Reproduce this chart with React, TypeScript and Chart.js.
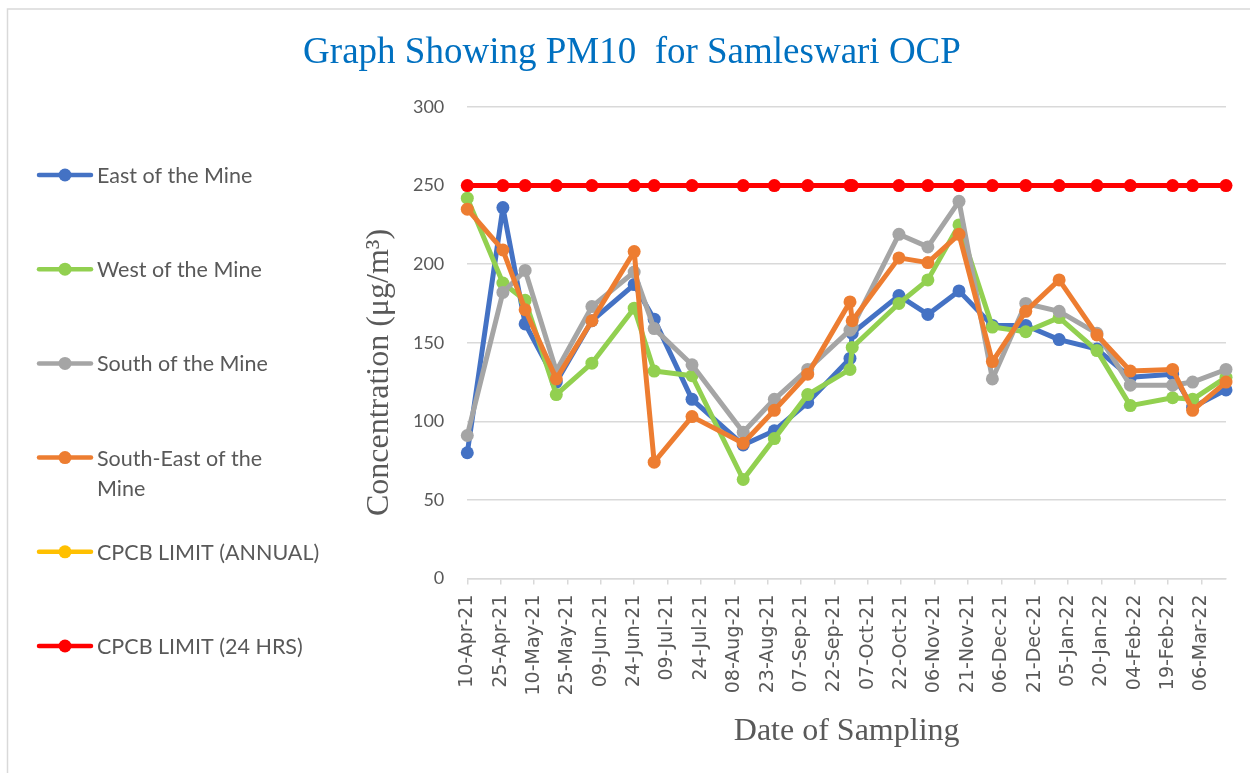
import React, { useEffect, useRef } from "react";
import { Chart, registerables } from "chart.js";

Chart.register(...registerables);

const chartTitle = "Graph Showing PM10  for Samleswari OCP";
const xAxisTitle = "Date of Sampling";
const yAxisTitle = "Concentration (μg/m³)";

const sampleDates = [
  "2021-04-10", "2021-04-26", "2021-05-06", "2021-05-20", "2021-06-05", "2021-06-24",
  "2021-07-03", "2021-07-20", "2021-08-12", "2021-08-26", "2021-09-10", "2021-09-29",
  "2021-09-30", "2021-10-21", "2021-11-03", "2021-11-17", "2021-12-02", "2021-12-17",
  "2022-01-01", "2022-01-18", "2022-02-02", "2022-02-21", "2022-03-02", "2022-03-17",
];

const eastOfMine = [80, 236, 162, 125, 164, 187, 165, 114, 85, 94, 112, 140, 156, 180, 168, 183, 161, 161, 152, 146, 128, 130, 109, 120];
const westOfMine = [242, 188, 177, 117, 137, 172, 132, 129, 63, 89, 117, 133, 147, 175, 190, 225, 160, 157, 166, 145, 110, 115, 114, 128];
const southOfMine = [91, 182, 196, 132, 173, 195, 159, 136, 93, 114, 133, 158, 160, 219, 211, 240, 127, 175, 170, 156, 123, 123, 125, 133];
const southEastOfMine = [235, 209, 171, 127, 164, 208, 74, 103, 86, 107, 130, 176, 164, 204, 201, 219, 138, 170, 190, 155, 132, 133, 107, 125];
const cpcbAnnual: number[] = [];
const cpcb24Hrs = [250, 250, 250, 250, 250, 250, 250, 250, 250, 250, 250, 250, 250, 250, 250, 250, 250, 250, 250, 250, 250, 250, 250, 250];

const seriesNames = [
  "East of the Mine",
  "West of the Mine",
  "South of the Mine",
  "South-East of the Mine",
  "CPCB LIMIT (ANNUAL)",
  "CPCB LIMIT (24 HRS)",
];
const seriesValues = [eastOfMine, westOfMine, southOfMine, southEastOfMine, cpcbAnnual, cpcb24Hrs];
const seriesColors = ["#4472C4", "#92D050", "#A5A5A5", "#ED7D31", "#FFC000", "#FF0000"];

const legendLines: Record<string, string[]> = {
  "South-East of the Mine": ["South-East of the", "Mine"],
};

const tickLabels = [
  "10-Apr-21", "25-Apr-21", "10-May-21", "25-May-21", "09-Jun-21", "24-Jun-21",
  "09-Jul-21", "24-Jul-21", "08-Aug-21", "23-Aug-21", "07-Sep-21", "22-Sep-21",
  "07-Oct-21", "22-Oct-21", "06-Nov-21", "21-Nov-21", "06-Dec-21", "21-Dec-21",
  "05-Jan-22", "20-Jan-22", "04-Feb-22", "19-Feb-22", "06-Mar-22",
];
const tickStepDays = 15;
const yTicks = [0, 50, 100, 150, 200, 250, 300];

const W = 1250;
const H = 773;
const GRID = "#d9d9d9";
const TEXT = "#595959";

const dayMs = 86400000;
const dayOf = (s: string) => (Date.parse(s) - Date.parse(sampleDates[0])) / dayMs;

const decorPlugin = {
  id: "decor",
  beforeDraw(chart: any) {
    const ctx = chart.ctx as CanvasRenderingContext2D;
    ctx.save();
    ctx.fillStyle = "#ffffff";
    ctx.fillRect(0, 0, chart.width, chart.height);
    ctx.strokeStyle = GRID;
    ctx.lineWidth = 1.5;
    ctx.beginPath();
    ctx.moveTo(7.5, chart.height);
    ctx.lineTo(7.5, 9);
    ctx.lineTo(chart.width, 9);
    ctx.stroke();
    ctx.restore();
  },
  afterDraw(chart: any) {
    const ctx = chart.ctx as CanvasRenderingContext2D;
    const area = chart.chartArea;
    ctx.save();
    // title
    ctx.fillStyle = "#0070C0";
    ctx.font = '37px "Liberation Serif"';
    ctx.textAlign = "center";
    ctx.textBaseline = "alphabetic";
    ctx.fillText(chartTitle, 632, 63);
    // x axis title
    ctx.fillStyle = TEXT;
    ctx.font = '32px "Liberation Serif"';
    ctx.fillText(xAxisTitle, (area.left + area.right) / 2, 740);
    // y axis title
    ctx.save();
    ctx.translate(388, 372.5);
    ctx.rotate(-Math.PI / 2);
    ctx.fillText(yAxisTitle, 0, 0);
    ctx.restore();
    // legend
    const top = 175;
    const step = 94.2;
    chart.data.datasets.forEach((ds: any, i: number) => {
      const y = top + i * step;
      ctx.strokeStyle = ds.borderColor;
      ctx.lineWidth = 4.5;
      ctx.lineCap = "round";
      ctx.beginPath();
      ctx.moveTo(39, y);
      ctx.lineTo(91, y);
      ctx.stroke();
      ctx.fillStyle = ds.borderColor;
      ctx.beginPath();
      ctx.arc(65, y, 6.5, 0, Math.PI * 2);
      ctx.fill();
      ctx.fillStyle = TEXT;
      ctx.font = '21.5px Lato';
      ctx.textAlign = "left";
      ctx.textBaseline = "alphabetic";
      const lines = legendLines[ds.label] ?? [ds.label];
      lines.forEach((t: string, k: number) => ctx.fillText(t, 97, y + 8 + k * 30.5));
    });
    ctx.restore();
  },
};

export default function App() {
  const ref = useRef<HTMLCanvasElement | null>(null);

  useEffect(() => {
    if (!ref.current) return;
    const days = sampleDates.map(dayOf);
    const datasets = seriesValues.map((vals, i) => ({
      label: seriesNames[i],
      data: vals.map((v, k) => ({ x: days[k], y: v })),
      borderColor: seriesColors[i],
      backgroundColor: seriesColors[i],
      pointBackgroundColor: seriesColors[i],
      pointBorderColor: seriesColors[i],
      borderWidth: 5,
      pointRadius: 6.5,
      pointHoverRadius: 6.5,
      pointBorderWidth: 0,
      tension: 0,
      borderJoinStyle: "round" as const,
      borderCapStyle: "round" as const,
      clip: false as any,
      order: seriesNames.length - i,
    }));

    const chart = new Chart(ref.current, {
      type: "line",
      data: { datasets },
      plugins: [decorPlugin],
      options: {
        animation: false,
        responsive: false,
        devicePixelRatio: 1,
        events: [],
        layout: { padding: { left: 0, top: 107, right: W - 1226, bottom: 0 } },
        plugins: {
          legend: { display: false },
          title: { display: false },
          tooltip: { enabled: false },
        },
        scales: {
          x: {
            type: "linear",
            min: 0,
            max: days[days.length - 1],
            afterBuildTicks: (scale: any) => {
              scale.ticks = tickLabels.map((_, i) => ({ value: i * tickStepDays }));
            },
            afterFit: (scale: any) => {
              scale.height = H - 578.5;
            },
            ticks: {
              autoSkip: false,
              minRotation: 90,
              maxRotation: 90,
              padding: 10,
              color: TEXT,
              font: { family: "DejaVu Sans", size: 19 },
              callback: (_v: any, i: number) => tickLabels[i],
            },
            grid: {
              display: true,
              drawOnChartArea: false,
              drawTicks: true,
              tickLength: 6,
              color: GRID,
              lineWidth: 1.5,
            },
            border: { display: true, color: GRID, width: 1.5 },
          },
          y: {
            type: "linear",
            min: 0,
            max: 300,
            afterBuildTicks: (scale: any) => {
              scale.ticks = yTicks.map((v) => ({ value: v }));
            },
            afterFit: (scale: any) => {
              scale.width = 467.3;
            },
            ticks: {
              padding: 23,
              color: TEXT,
              font: { family: "Lato", size: 18 },
              callback: (v: any) => String(v),
            },
            grid: { color: GRID, lineWidth: 1.5, drawTicks: false },
            border: { display: false },
          },
        },
      } as any,
    });
    return () => chart.destroy();
  }, []);

  return (
    <div style={{ position: "fixed", left: 0, top: 0, width: W, height: H, background: "#fff" }}>
      <canvas ref={ref} width={W} height={H} style={{ width: W, height: H, display: "block" }} />
    </div>
  );
}
